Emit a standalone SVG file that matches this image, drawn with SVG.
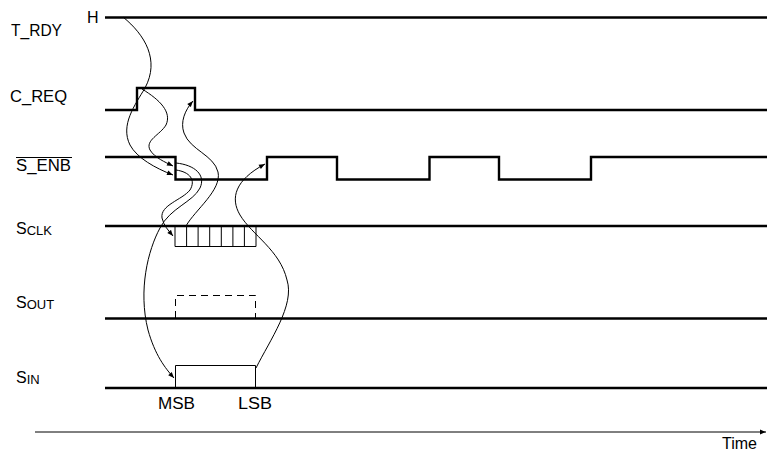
<svg xmlns="http://www.w3.org/2000/svg" width="767" height="455" viewBox="0 0 767 455">
<style>
text{font-family:"Liberation Sans",Arial,sans-serif;font-size:16px;fill:#000}
.sub{font-size:13px}
.sig{fill:none;stroke:#000;stroke-width:2.4}
.thin{fill:none;stroke:#000;stroke-width:1}
.dash{fill:none;stroke:#000;stroke-width:1;stroke-dasharray:7 5}
.cur{fill:none;stroke:#000;stroke-width:1;marker-end:url(#ah)}
</style>
<defs>
<marker id="ah" viewBox="0 0 10 10" refX="10" refY="5" markerWidth="7" markerHeight="6" orient="auto" markerUnits="userSpaceOnUse">
<path d="M0,1 L10,5 L0,9 z" fill="#000"/>
</marker>
<marker id="ta" viewBox="0 0 10 10" refX="10" refY="5" markerWidth="7" markerHeight="6" orient="auto" markerUnits="userSpaceOnUse">
<path d="M0,1 L10,5 L0,9 z" fill="#000"/>
</marker>
</defs>
<g id="t_rdy">
<text x="11" y="36" textLength="51" lengthAdjust="spacingAndGlyphs">T_RDY</text>
<text x="87" y="23">H</text>
<path class="sig" d="M105,17.5 H767"/>
</g>
<g id="c_req">
<text x="10" y="102" textLength="57" lengthAdjust="spacingAndGlyphs">C_REQ</text>
<path class="sig" d="M105,110 H137 V88 H195 V110 H767"/>
</g>
<g id="s_enb">
<text x="16" y="171" textLength="55" lengthAdjust="spacingAndGlyphs">S_ENB</text>
<path class="thin" d="M16,157.5 H72"/>
<path class="sig" d="M105,157 H175.5 V179.5 H267 V157 H337 V179.5 H429.5 V157 H499 V179.5 H591 V157 H767"/>
</g>
<g id="s_clk">
<text x="16" y="234">S<tspan class="sub" dy="1">CLK</tspan></text>
<path class="sig" d="M105,226 H767"/>
<path class="thin" d="M175,226 V246.5 M186.6,226 V246.5 M198.1,226 V246.5 M209.7,226 V246.5 M221.3,226 V246.5 M232.9,226 V246.5 M244.4,226 V246.5 M256,226 V246.5 M175,246.5 H256"/>
</g>
<g id="s_out">
<text x="16" y="308">S<tspan class="sub" dy="1">OUT</tspan></text>
<path class="sig" d="M105,318.5 H767"/>
<path class="dash" d="M175.5,318 V295.5 H255.5 V318"/>
</g>
<g id="s_in">
<text x="16" y="383">S<tspan class="sub" dy="1">IN</tspan></text>
<path class="sig" d="M105,388 H767"/>
<path class="thin" d="M175.5,388 V365.5 H255.5 V388"/>
<text x="176.5" y="409" text-anchor="middle" textLength="37" lengthAdjust="spacingAndGlyphs">MSB</text>
<text x="255" y="409" text-anchor="middle" textLength="34" lengthAdjust="spacingAndGlyphs">LSB</text>
</g>
<g id="time_axis">
<path class="thin" d="M35,432 H766" marker-end="url(#ta)"/>
<text x="722" y="449" textLength="35" lengthAdjust="spacingAndGlyphs">Time</text>
</g>
<g id="connectors">
<path class="cur" d="M123,17 C145,35 160,60 145,88 C135,105 120,125 130,145 C137,158 155,168 173,175"/>
<path class="cur" d="M142,89 C160,100 172,112 166,125 C160,135 145,140 150,150 C155,158 165,162 173,166"/>
<path class="cur" d="M176,170 C190,172 196,180 190,190 C182,200 160,205 162,218 C164,226 168,230 173,236"/>
<path class="cur" d="M176,163 C195,165 206,175 200,188 C193,202 170,208 160,228 C148,250 138,290 148,330 C155,355 165,368 174,378"/>
<path class="cur" d="M186,226 C195,210 222,190 218,172 C214,155 190,150 184,133 C180,122 185,110 193,101"/>
<path class="cur" d="M256,368 C270,340 295,305 287,280 C280,250 252,235 240,215 C230,198 235,180 265,164"/>
</g>
</svg>
